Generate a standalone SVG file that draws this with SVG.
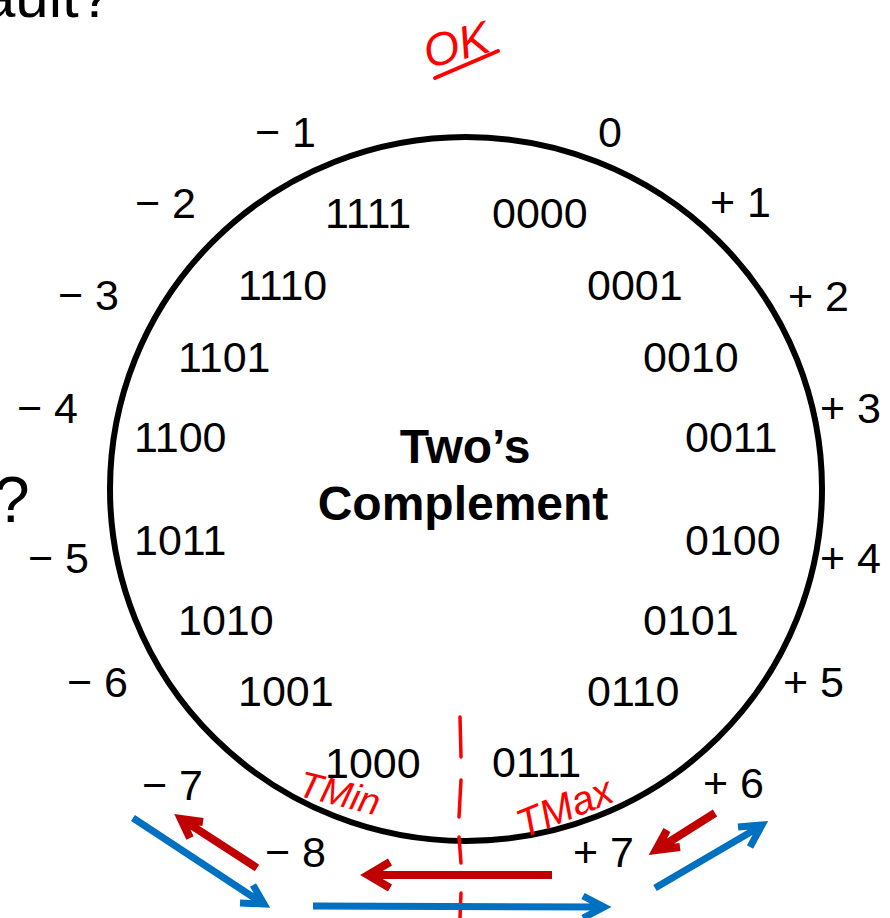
<svg xmlns="http://www.w3.org/2000/svg" width="890" height="918" viewBox="0 0 890 918">
<style>
.lbl{font-family:"Liberation Sans",Arial,sans-serif;font-size:43px;fill:#000}
.ttl{font-family:"Liberation Sans",Arial,sans-serif;font-size:48px;font-weight:bold;fill:#000;text-anchor:middle}
.hand{font-family:"Liberation Sans",Arial,sans-serif;fill:#ff0000;font-style:italic}
.red{stroke:#c00000;stroke-width:8;fill:none;stroke-linecap:butt;stroke-linejoin:miter}
.blue{stroke:#0070c0;stroke-width:7;fill:none;stroke-linecap:butt;stroke-linejoin:miter}
</style>
<rect width="890" height="918" fill="#fff"/>
<text class="lbl" x="112" y="17" style="font-size:60px;text-anchor:end">ault?</text>
<text class="lbl" x="-6" y="522" style="font-size:64px">?</text>

<g id="ring">
<ellipse cx="466" cy="489" rx="356" ry="352" fill="none" stroke="#000" stroke-width="6"/>
</g>
<g id="title">
<text class="ttl" x="465" y="463">Two’s</text>
<text class="ttl" x="463" y="520">Complement</text>
</g>

<g id="bits">
<text class="lbl" x="325" y="228">1111</text>
<text class="lbl" x="492" y="228">0000</text>
<text class="lbl" x="238" y="300">1110</text>
<text class="lbl" x="587" y="300">0001</text>
<text class="lbl" x="178" y="372">1101</text>
<text class="lbl" x="643" y="372">0010</text>
<text class="lbl" x="134" y="452">1100</text>
<text class="lbl" x="685" y="452">0011</text>
<text class="lbl" x="134" y="555">1011</text>
<text class="lbl" x="685" y="555">0100</text>
<text class="lbl" x="178" y="635">1010</text>
<text class="lbl" x="643" y="635">0101</text>
<text class="lbl" x="238" y="706">1001</text>
<text class="lbl" x="587" y="706">0110</text>
<text class="lbl" x="325" y="778">1000</text>
<text class="lbl" x="492" y="777">0111</text>
</g>

<g id="values">
<text class="lbl" x="255" y="147">− 1</text>
<text class="lbl" x="598" y="147">0</text>
<text class="lbl" x="135" y="218">− 2</text>
<text class="lbl" x="710" y="217">+ 1</text>
<text class="lbl" x="58" y="310">− 3</text>
<text class="lbl" x="788" y="311">+ 2</text>
<text class="lbl" x="17" y="423">− 4</text>
<text class="lbl" x="820" y="423">+ 3</text>
<text class="lbl" x="28" y="573">− 5</text>
<text class="lbl" x="820" y="573">+ 4</text>
<text class="lbl" x="67" y="697">− 6</text>
<text class="lbl" x="783" y="697">+ 5</text>
<text class="lbl" x="142" y="800">− 7</text>
<text class="lbl" x="703" y="798">+ 6</text>
<text class="lbl" x="265" y="867">− 8</text>
<text class="lbl" x="573" y="867">+ 7</text>
</g>

<g id="annotations">
<text class="hand" x="423" y="62" style="font-size:46px" transform="rotate(-15 450 45)">OK</text>
<path d="M435 78 L498 51" stroke="#ff0000" stroke-width="4" stroke-linecap="round" fill="none"/>
<text class="hand" x="298" y="806" style="font-size:37px" transform="rotate(14 340 795)">TMin</text>
<text class="hand" x="512" y="820" style="font-size:40px" transform="rotate(-22 565 800)">TMax</text>
<path d="M460 717 L461 757 M461 780 L459 817 M459 837 L461 863 M461 893 L460 918" stroke="#ff0000" stroke-width="3.5" stroke-linecap="round" fill="none"/>
</g>

<g id="connectors">
<path class="red" d="M257 868 L183 820 M203 822 L181 819 L190 838"/>
<path class="red" d="M552 875 L370 875 M390 862 L368 875 L390 888"/>
<path class="red" d="M715 813 L658 849 M667 830 L656 850 L680 847"/>
<path class="blue" d="M133 818 L262 903 M253 885 L264 904 L240 903"/>
<path class="blue" d="M313 906 L602 907 M583 896 L604 907 L583 918"/>
<path class="blue" d="M655 888 L761 826 M738 827 L762 825 L750 847"/>
</g>
</svg>
